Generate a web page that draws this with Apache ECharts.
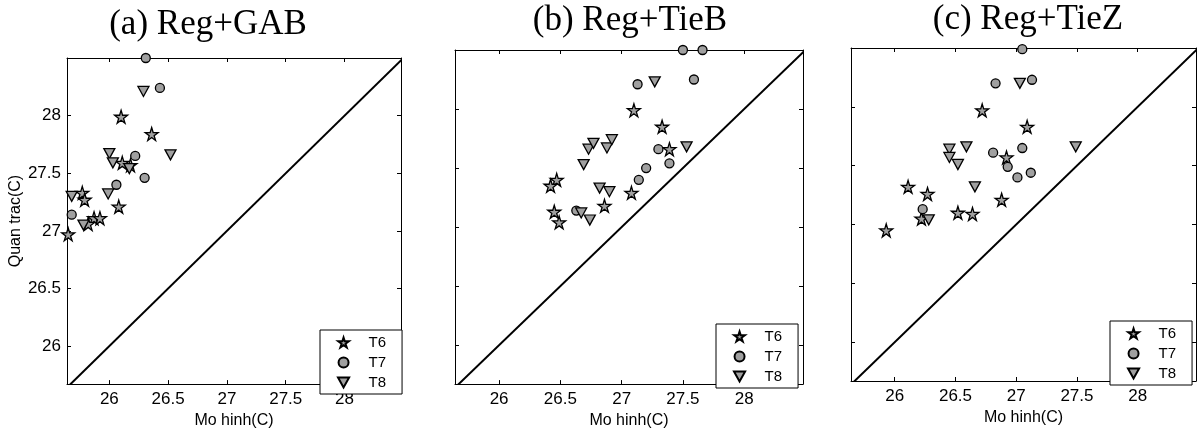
<!DOCTYPE html>
<html>
<head>
<meta charset="utf-8">
<script src="https://cdn.jsdelivr.net/npm/echarts@6/dist/echarts.min.js"></script>
<style>
  html, body { margin: 0; padding: 0; background: #fff; }
  #chart { width: 1197px; height: 434px; }
</style>
</head>
<body>
<div id="chart"></div>
<script>
// Tick labels shared by all three panels
const tickValues = [26, 26.5, 27, 27.5, 28];
const seriesNames = ['T6', 'T7', 'T8'];
const panelTitles = ['(a) Reg+GAB', '(b) Reg+TieB', '(c) Reg+TieZ'];

// (a) Reg+GAB  [Mo hinh, Quan trac]
const aT6 = [[26.10, 27.99], [26.36, 27.84], [25.77, 27.33], [25.79, 27.27], [26.08, 27.21], [26.11, 27.59],
    [26.18, 27.57], [25.87, 27.11], [25.92, 27.11], [25.82, 27.06], [25.65, 26.97]];
const aT7 = [[26.31, 28.50], [26.52, 28.51], [26.43, 28.24], [26.22, 27.65], [26.30, 27.46], [26.06, 27.40], [25.68, 27.14]];
const aT8 = [[26.29, 28.21], [26.52, 27.66], [26.00, 27.67], [26.03, 27.59], [26.17, 27.54], [25.99, 27.32], [25.68, 27.30], [25.78, 27.05]];

// (b) Reg+TieB
const bT6 = [[27.10, 27.99], [27.33, 27.85], [27.39, 27.66], [27.08, 27.29], [26.86, 27.18], [26.47, 27.40],
    [26.42, 27.35], [26.45, 27.13], [26.49, 27.04]];
const bT7 = [[27.50, 28.50], [27.66, 28.50], [27.59, 28.25], [27.13, 28.21], [27.30, 27.66], [27.20, 27.50],
    [27.14, 27.40], [27.39, 27.54], [26.63, 27.14]];
const bT8 = [[27.27, 28.23], [27.53, 27.68], [26.69, 27.53], [26.73, 27.66], [26.77, 27.71], [26.88, 27.67],
    [26.92, 27.74], [26.82, 27.33], [26.90, 27.30], [26.74, 27.06], [26.67, 27.12]];

// (c) Reg+TieZ
const cT6 = [[26.72, 27.97], [27.09, 27.83], [26.92, 27.57], [26.88, 27.21], [26.11, 27.32], [26.27, 27.26],
    [26.52, 27.10], [26.64, 27.09], [26.22, 27.05], [25.93, 26.95]];
const cT7 = [[27.05, 28.49], [26.83, 28.20], [27.13, 28.23], [27.05, 27.65], [26.81, 27.61], [26.93, 27.49],
    [27.01, 27.40], [27.12, 27.44], [26.23, 27.13]];
const cT8 = [[27.03, 28.20], [27.49, 27.66], [26.59, 27.66], [26.45, 27.64], [26.45, 27.57], [26.52, 27.51],
    [26.66, 27.32], [26.28, 27.04]];

// 1:1 reference line
const diagonal = [[25.5, 25.5], [28.6, 28.6]];

const panelData = [[aT6, aT7, aT8], [bT6, bT7, bT8], [cT6, cT7, cT8]];

const xMin = 25.64, xMax = 28.48;
const yMin = 25.67, yMax = 28.5;

const starPath = 'path://M50,0 L61,35 L98,35 L68,57 L79,91 L50,70 L21,91 L32,57 L2,35 L39,35 Z';
const triPath = 'path://M0,0 L10,0 L5,9 Z';
const symbols = [starPath, 'circle', triPath];
const symbolSizes = [13, 9, [11, 10]];

// Panel boxes in pixels
const panels = [
    { left: 67, top: 58, width: 334, height: 332, titleX: 208, titleY: 25, nameGap: 23, legendLeft: 320, legendTop: 330 },
    { left: 455, top: 50, width: 348, height: 335, titleX: 630, titleY: 21, nameGap: 22, legendLeft: 716, legendTop: 324 },
    { left: 851, top: 48, width: 345, height: 333, titleX: 1028, titleY: 20, nameGap: 22, legendLeft: 1110, legendTop: 321 }
];

const black = '#000';
const grids = [], xAxes = [], yAxes = [], series = [], legends = [], graphics = [];

panels.forEach((p, i) => {
    grids.push({ left: p.left, top: p.top, width: p.width, height: p.height, show: false });

    const tickStyle = { show: true, inside: true, length: 4, customValues: tickValues, lineStyle: { color: black, width: 1 } };
    const lineStyle = { show: true, onZero: false, lineStyle: { color: black, width: 1 } };

    // bottom x axis
    xAxes.push({
        type: 'value', gridIndex: i, position: 'bottom', min: xMin, max: xMax,
        axisLine: lineStyle, axisTick: tickStyle, splitLine: { show: false },
        axisLabel: { customValues: tickValues, color: black, fontSize: 17, fontFamily: 'Liberation Sans', margin: 7 },
        name: 'Mo hinh(C)', nameLocation: 'middle', nameGap: p.nameGap,
        nameTextStyle: { color: black, fontSize: 16, fontFamily: 'Liberation Sans' }
    });
    // top x axis (ticks only)
    xAxes.push({
        type: 'value', gridIndex: i, position: 'top', min: xMin, max: xMax,
        axisLine: lineStyle, axisTick: tickStyle, splitLine: { show: false }, axisLabel: { show: false }
    });
    // left y axis
    yAxes.push({
        type: 'value', gridIndex: i, position: 'left', min: yMin, max: yMax,
        axisLine: lineStyle, axisTick: tickStyle, splitLine: { show: false },
        axisLabel: { show: i === 0, customValues: tickValues, color: black, fontSize: 17, fontFamily: 'Liberation Sans', margin: 6 },
        name: i === 0 ? 'Quan trac(C)' : '', nameLocation: 'middle', nameGap: 41,
        nameTextStyle: { color: black, fontSize: 16, fontFamily: 'Liberation Sans' }
    });
    // right y axis (ticks only)
    yAxes.push({
        type: 'value', gridIndex: i, position: 'right', min: yMin, max: yMax,
        axisLine: lineStyle, axisTick: tickStyle, splitLine: { show: false }, axisLabel: { show: false }
    });

    series.push({
        type: 'line', xAxisIndex: i * 2, yAxisIndex: i * 2, data: diagonal,
        showSymbol: false, symbol: 'none', silent: true, clip: true,
        lineStyle: { color: black, width: 2 }, z: 1
    });

    panelData[i].forEach((pts, k) => {
        series.push({
            name: seriesNames[k], type: 'scatter', xAxisIndex: i * 2, yAxisIndex: i * 2,
            data: pts, symbol: symbols[k], symbolSize: symbolSizes[k],
            itemStyle: { color: '#a0a0a0', borderColor: black, borderWidth: 1.3, opacity: 1 },
            z: 3
        });
    });

    legends.push({
        left: p.legendLeft, top: p.legendTop, orient: 'vertical',
        data: seriesNames, selectedMode: false,
        itemWidth: 40, itemHeight: 10, itemGap: 5,
        padding: [5, 16, 4, 17],
        backgroundColor: '#fff', borderColor: black, borderWidth: 1, borderRadius: 0,
        textStyle: { color: black, fontSize: 15, lineHeight: 14, fontFamily: 'Liberation Sans' }
    });

    graphics.push({
        type: 'text', x: p.titleX, y: p.titleY,
        style: {
            text: panelTitles[i], fill: black, textAlign: 'center', textVerticalAlign: 'middle',
            font: '35px "Liberation Serif"'
        }
    });
});

const chart = echarts.init(document.getElementById('chart'));
chart.setOption({
    animation: false,
    backgroundColor: '#fff',
    grid: grids,
    xAxis: xAxes,
    yAxis: yAxes,
    legend: legends,
    series: series,
    graphic: graphics
});
</script>
</body>
</html>
